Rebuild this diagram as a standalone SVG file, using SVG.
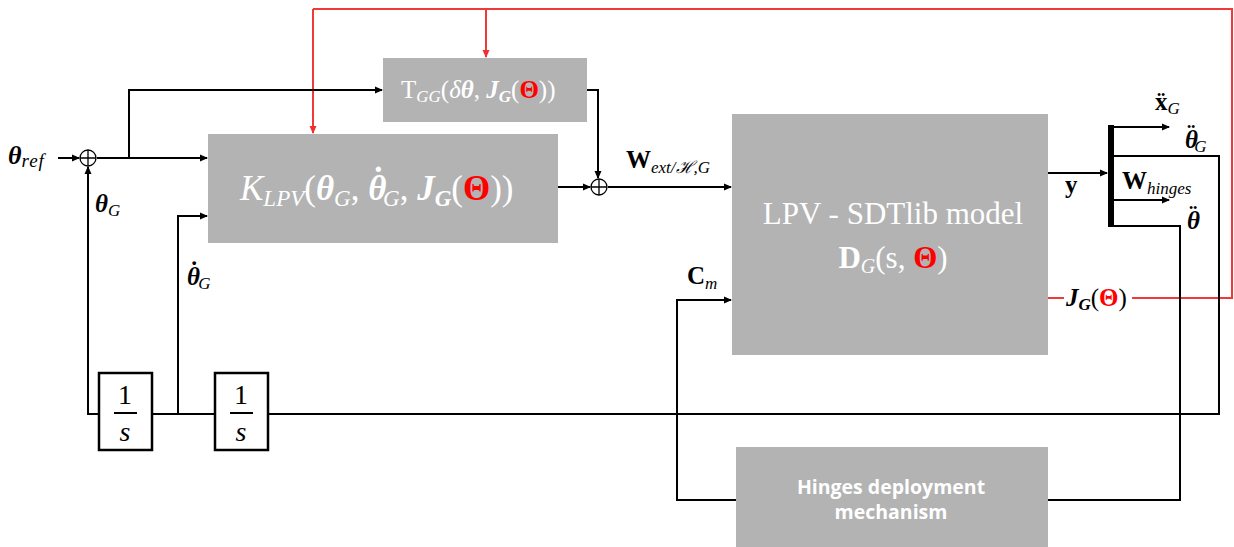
<svg xmlns="http://www.w3.org/2000/svg" width="1234" height="547" viewBox="0 0 1234 547">
<defs>
<marker id="ab" markerWidth="8" markerHeight="8" refX="7" refY="4" orient="auto" markerUnits="userSpaceOnUse"><path d="M0,0.5 L8,4 L0,7.5 z" fill="#000"/></marker>
<marker id="ar" markerWidth="8" markerHeight="8" refX="7" refY="4" orient="auto" markerUnits="userSpaceOnUse"><path d="M0,0.5 L8,4 L0,7.5 z" fill="#f03030"/></marker>
</defs>
<style>
.blk{fill:#b3b3b3}
.ln{fill:none;stroke:#000;stroke-width:2}
.rl{fill:none;stroke:#f03a3a;stroke-width:2}
.m{font-family:"Liberation Serif","DejaVu Serif",serif}
.w{fill:#fff}
.k{fill:#000}
.i{font-style:italic}
.b{font-weight:bold}
.r{fill:#f00;font-weight:bold;font-style:normal}
.sum{fill:#fff;stroke:#000;stroke-width:1.3}
.int{fill:#fff;stroke:#000;stroke-width:2.5}
</style>
<g id="connectors">
<polyline class="rl" points="313,9 1232,9 1232,298 1132,298"/>
<line class="rl" x1="1048" y1="298" x2="1064" y2="298"/>
<polyline class="rl" points="313,9 313,133" marker-end="url(#ar)"/>
<polyline class="rl" points="486,9 486,57" marker-end="url(#ar)"/>
<line class="ln" x1="58" y1="158" x2="79" y2="158" marker-end="url(#ab)"/>
<line class="ln" x1="97" y1="158" x2="207" y2="158" marker-end="url(#ab)"/>
<polyline class="ln" points="129,158 129,90 382,90" marker-end="url(#ab)"/>
<polyline class="ln" points="587,90 598,90 598,178" marker-end="url(#ab)"/>
<line class="ln" x1="558" y1="187" x2="590" y2="187" marker-end="url(#ab)"/>
<line class="ln" x1="608" y1="187" x2="731" y2="187" marker-end="url(#ab)"/>
<polyline class="ln" points="99,414 88,414 88,167" marker-end="url(#ab)"/>
<line class="ln" x1="152" y1="414" x2="215" y2="414"/>
<polyline class="ln" points="178,414 178,216 207,216" marker-end="url(#ab)"/>
<polyline class="ln" points="268,414 1219,414 1219,156 1114,156"/>
<line class="ln" x1="1048" y1="173" x2="1107" y2="173" marker-end="url(#ab)"/>
<line class="ln" x1="1114" y1="127" x2="1169" y2="127" marker-end="url(#ab)"/>
<line class="ln" x1="1114" y1="200" x2="1169" y2="200" marker-end="url(#ab)"/>
<polyline class="ln" points="1114,226 1180,226 1180,500 1048,500"/>
<polyline class="ln" points="736,500 677,500 677,300 731,300" marker-end="url(#ab)"/>
</g>
<g id="sum1"><circle class="sum" cx="88" cy="158" r="8"/><path d="M80,158 H96 M88,150 V166" stroke="#000" stroke-width="1.3"/></g>
<g id="sum2"><circle class="sum" cx="599" cy="187" r="8"/><path d="M591,187 H607 M599,179 V195" stroke="#000" stroke-width="1.3"/></g>
<g id="demux"><rect x="1108" y="125" width="6" height="102" fill="#000"/></g>
<g id="tgg">
<rect class="blk" x="383" y="58" width="204" height="64"/>
<text class="m w" x="401" y="98" font-size="25">T<tspan class="i" font-size="17" dy="4">GG</tspan><tspan dy="-4">(</tspan><tspan class="i">δ</tspan><tspan class="i b">θ</tspan>, <tspan class="i b">J</tspan><tspan class="i b" font-size="17" dy="4">G</tspan><tspan dy="-4">(</tspan><tspan class="r">Θ</tspan>))</text>
</g>
<g id="klpv">
<rect class="blk" x="208" y="134" width="350" height="109"/>
<text class="m w" x="240" y="200" font-size="35"><tspan class="i">K</tspan><tspan class="i" font-size="23" dy="6">LPV</tspan><tspan dy="-6">(</tspan><tspan class="i b">θ</tspan><tspan class="i" font-size="23" dy="6">G</tspan><tspan dy="-6">, </tspan><tspan class="i b">θ</tspan><tspan class="b" dx="-14" dy="-8">˙</tspan><tspan class="i" font-size="23" dx="-1" dy="14">G</tspan><tspan dy="-6">, </tspan><tspan class="i b">J</tspan><tspan class="i b" font-size="23" dy="6">G</tspan><tspan dy="-6">(</tspan><tspan class="r">Θ</tspan>))</text>
</g>
<g id="lpv">
<rect class="blk" x="732" y="114" width="316" height="241"/>
<text class="m w" x="893" y="224" font-size="31" text-anchor="middle">LPV - SDTlib model</text>
<text class="m w" x="893" y="268" font-size="31" text-anchor="middle"><tspan class="b">D</tspan><tspan class="i" font-size="20" dy="5">G</tspan><tspan dy="-5">(s, </tspan><tspan class="r">Θ</tspan>)</text>
</g>
<g id="hinges">
<rect class="blk" x="736" y="447" width="312" height="100"/>
<text font-family="'Open Sans','Noto Sans',sans-serif" font-weight="bold" font-size="19.5" fill="#fff" text-anchor="middle"><tspan x="891" y="494">Hinges deployment</tspan><tspan x="891" y="519">mechanism</tspan></text>
</g>
<g id="int1"><rect class="int" x="99" y="373" width="53" height="77"/><text class="m k" x="125" y="404" font-size="28" text-anchor="middle">1</text><line x1="114" y1="413" x2="137" y2="413" stroke="#000" stroke-width="2"/><text class="m k i" x="125" y="441" font-size="28" text-anchor="middle">s</text></g>
<g id="int2"><rect class="int" x="215" y="373" width="53" height="77"/><text class="m k" x="241" y="404" font-size="28" text-anchor="middle">1</text><line x1="230" y1="413" x2="253" y2="413" stroke="#000" stroke-width="2"/><text class="m k i" x="241" y="441" font-size="28" text-anchor="middle">s</text></g>
<g id="labels" class="m k">
<text x="8" y="164" font-size="26"><tspan class="i b">θ</tspan><tspan class="i" font-size="19" dy="3" letter-spacing="1">ref</tspan></text>
<text x="95" y="212" font-size="25"><tspan class="i b">θ</tspan><tspan class="i" font-size="17" dy="4">G</tspan></text>
<text x="187" y="285" font-size="25"><tspan class="i b">θ</tspan><tspan class="b" dx="-10" dy="-6">˙</tspan><tspan class="i" font-size="17" dy="10">G</tspan></text>
<text x="626" y="168" font-size="25"><tspan class="b">W</tspan><tspan class="i" font-size="17" dy="5">ext/ℋ,G</tspan></text>
<text x="1065" y="193" font-size="25" class="b">y</text>
<text x="687" y="284" font-size="25"><tspan class="b">C</tspan><tspan class="i" font-size="17" dy="5">m</tspan></text>
<text x="1155" y="110" font-size="25"><tspan class="b">ẍ</tspan><tspan class="i" font-size="17" dy="4">G</tspan></text>
<text x="1185" y="148" font-size="25"><tspan class="i b">θ</tspan><tspan class="b" dx="-11" dy="-6">¨</tspan><tspan class="i" font-size="17" dx="-1" dy="10">G</tspan></text>
<text x="1122" y="189" font-size="25"><tspan class="b">W</tspan><tspan class="i" font-size="17" dy="5">hinges</tspan></text>
<text x="1187" y="229" font-size="25"><tspan class="i b">θ</tspan><tspan class="b" dx="-11" dy="-6">¨</tspan></text>
<text x="1066" y="306" font-size="25"><tspan class="i b">J</tspan><tspan class="i b" font-size="17" dy="4">G</tspan><tspan dy="-4">(</tspan><tspan class="r">Θ</tspan>)</text>
</g>
</svg>
